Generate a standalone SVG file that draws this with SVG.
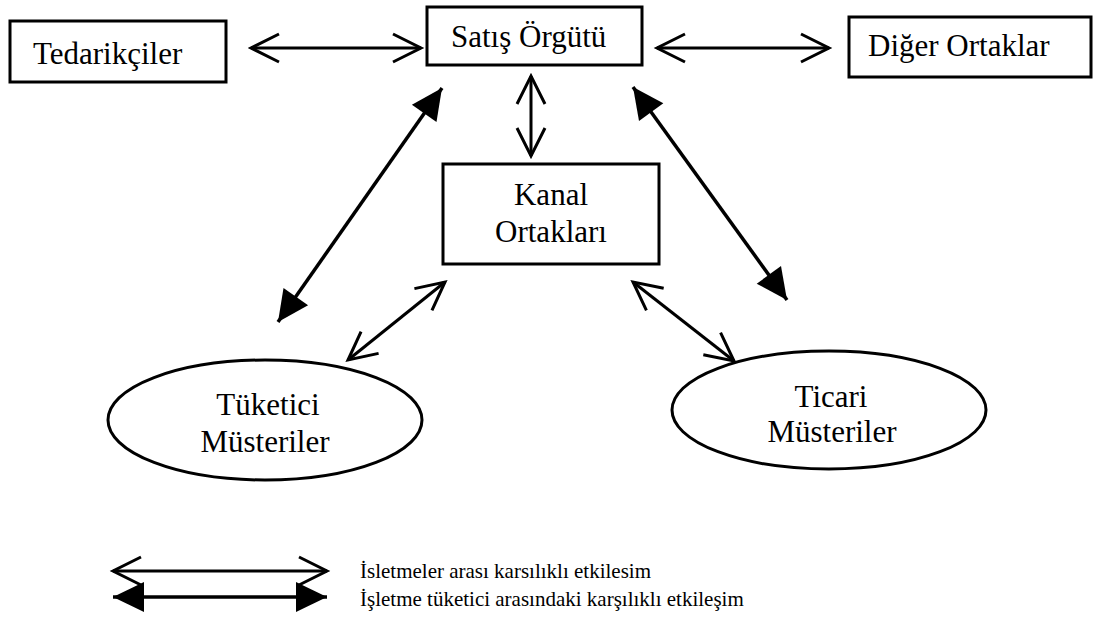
<svg xmlns="http://www.w3.org/2000/svg" width="1099" height="619" viewBox="0 0 1099 619">
<style>
  .box { fill: #fff; stroke: #000; stroke-width: 3; }
  .lbl { font-family: "Liberation Serif", "Times New Roman", serif; font-size: 31px; fill: #000; }
  .leg { font-family: "Liberation Serif", "Times New Roman", serif; font-size: 21px; fill: #000; }
  .open { fill: none; stroke: #000; stroke-width: 3; marker-start: url(#openHead); marker-end: url(#openHead); }
  .solid { fill: none; stroke: #000; stroke-width: 3.5; marker-start: url(#solidHead); marker-end: url(#solidHead); }
</style>
<defs>
  <marker id="openHead" markerUnits="userSpaceOnUse" markerWidth="40" markerHeight="40" viewBox="-35 -20 40 40" refX="0" refY="0" orient="auto-start-reverse" overflow="visible">
    <path d="M-28,-14 L0,0 L-28,14" fill="none" stroke="#000" stroke-width="3"/>
  </marker>
  <marker id="solidHead" markerUnits="userSpaceOnUse" markerWidth="40" markerHeight="40" viewBox="-35 -20 40 40" refX="0" refY="0" orient="auto-start-reverse" overflow="visible">
    <path d="M-31,-15 L0,0 L-31,15 Z" fill="#000"/>
  </marker>
</defs>
<rect width="1099" height="619" fill="#fff"/>

<g id="connectors">
  <path class="open" d="M251,48 L421,48"/>
  <path class="open" d="M657,48 L829,48"/>
  <path class="open" d="M531,76 L531,156"/>
  <path class="solid" d="M442,88 L278,322"/>
  <path class="solid" d="M633,87 L787,300"/>
  <path class="open" d="M445,282 L348,360"/>
  <path class="open" d="M633,282 L734,361"/>
</g>

<g id="tedarikciler">
  <rect class="box" x="10" y="21" width="216" height="61"/>
  <text class="lbl" x="33" y="64">Tedarikçiler</text>
</g>
<g id="satis-orgutu">
  <rect class="box" x="427" y="7" width="215" height="58"/>
  <text class="lbl" x="451" y="47">Satış Örgütü</text>
</g>
<g id="diger-ortaklar">
  <rect class="box" x="849" y="17" width="242" height="60"/>
  <text class="lbl" x="868" y="56">Diğer Ortaklar</text>
</g>
<g id="kanal-ortaklari">
  <rect class="box" x="443" y="164" width="216" height="100"/>
  <text class="lbl" x="551" y="205" text-anchor="middle">Kanal</text>
  <text class="lbl" x="551" y="242" text-anchor="middle">Ortakları</text>
</g>
<g id="tuketici-musteriler">
  <ellipse class="box" cx="265" cy="420" rx="157" ry="60"/>
  <text class="lbl" x="268" y="415" text-anchor="middle">Tüketici</text>
  <text class="lbl" x="265" y="452" text-anchor="middle">Müsteriler</text>
</g>
<g id="ticari-musteriler">
  <ellipse class="box" cx="829" cy="410" rx="157" ry="59"/>
  <text class="lbl" x="831" y="407" text-anchor="middle">Ticari</text>
  <text class="lbl" x="832" y="442" text-anchor="middle">Müsteriler</text>
</g>

<g id="legend">
  <path class="open" d="M113,571 L327,571"/>
  <path class="solid" d="M113,597 L327,597"/>
  <text class="leg" x="360" y="578">İsletmeler arası karsılıklı etkilesim</text>
  <text class="leg" x="360" y="606">İşletme tüketici arasındaki karşılıklı etkileşim</text>
</g>
</svg>
